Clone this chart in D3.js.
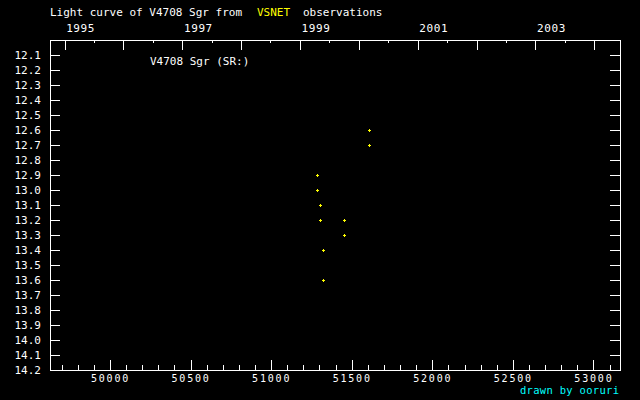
<!DOCTYPE html>
<html><head><meta charset="utf-8">
<script src="https://cdn.jsdelivr.net/npm/d3@7"></script>
<style>
html,body{margin:0;padding:0;background:#000;}
svg{display:block;}
text{font-family:"DejaVu Sans Mono",monospace;font-size:11px;fill:#fff;}
</style></head>
<body>
<svg id="c" width="640" height="400"></svg>
<script>
// Observations (JD - 2400000, visual magnitude)
const jd  = [51610, 51610, 51287, 51287, 51305, 51305, 51454, 51454, 51324, 51324];
const mag = [12.6, 12.7, 12.9, 13.0, 13.1, 13.2, 13.2, 13.3, 13.4, 13.6];
// Axis ticks
const jdMajor = [50000, 50500, 51000, 51500, 52000, 52500, 53000];
const jdMinor = [49700,49800,49900,50100,50200,50300,50400,50600,50700,50800,50900,
                 51100,51200,51300,51400,51600,51700,51800,51900,52100,52200,52300,52400,
                 52600,52700,52800,52900,53100];
const years = [1995, 1996, 1997, 1998, 1999, 2000, 2001, 2002, 2003, 2004];
const yearLabels = [1995, 1997, 1999, 2001, 2003];
const magTicks = [12.1,12.2,12.3,12.4,12.5,12.6,12.7,12.8,12.9,13.0,13.1,13.2,13.3,13.4,13.5,13.6,13.7,13.8,13.9,14.0,14.1,14.2];

const L = 50, R = 620, T = 40, B = 370;
const svg = d3.select("#c");
svg.append("rect").attr("width",640).attr("height",400).attr("fill","#000");

const x = d3.scaleLinear().domain([49627.6, 53165]).range([L, R]);
const y = d3.scaleLinear().domain([12.0, 14.2]).range([T, B]);

// calendar year -> JD-2400000
const yearJD = (yr, m) => Date.UTC(yr, m, 1) / 86400000 + 40587 + 0.5;
const yearTickJD = years.map(v => yearJD(v, 0));
const halfTickJD = years.map(v => yearJD(v, 6)).filter(v => x(v) < R);

function styleAxis(g){
  g.select(".domain").remove();
  g.selectAll("line").attr("stroke","#fff").attr("stroke-width",1).attr("shape-rendering","crispEdges");
  g.selectAll("text").attr("fill","#fff").style("font-family","'DejaVu Sans Mono',monospace").style("font-size","11px");
}

// bottom axis
svg.append("g").attr("transform",`translate(0,${B})`)
  .call(d3.axisBottom(x).tickValues(jdMinor).tickSizeInner(-5).tickSizeOuter(0).tickFormat(""))
  .call(styleAxis);
svg.append("g").attr("transform",`translate(0,${B})`)
  .call(d3.axisBottom(x).tickValues(jdMajor).tickSizeInner(-10).tickSizeOuter(0).tickPadding(5).tickFormat(d3.format("d")))
  .call(styleAxis)
  .call(g => g.selectAll("text").attr("y",11.5).attr("dy",null).style("font-size","10px").style("letter-spacing","1.8px"));

// top axis (years)
svg.append("g").attr("transform",`translate(0,${T})`)
  .call(d3.axisTop(x).tickValues(halfTickJD).tickSizeInner(-3).tickSizeOuter(0).tickFormat(""))
  .call(styleAxis);
svg.append("g").attr("transform",`translate(0,${T})`)
  .call(d3.axisTop(x).tickValues(yearTickJD).tickSizeInner(-10).tickSizeOuter(0).tickPadding(8)
        .tickFormat((d,i) => yearLabels.includes(years[i]) ? String(years[i]) : ""))
  .call(styleAxis)
  .call(g => g.selectAll("text").attr("text-anchor","start").attr("dx",1).style("letter-spacing","0.6px"));

// left axis
svg.append("g").attr("transform",`translate(${L},0)`)
  .call(d3.axisLeft(y).tickValues(magTicks).tickSizeInner(-10).tickSizeOuter(0).tickPadding(9).tickFormat(d3.format(".1f")))
  .call(styleAxis);
// right axis
svg.append("g").attr("transform",`translate(${R},0)`)
  .call(d3.axisRight(y).tickValues(magTicks).tickSizeInner(-10).tickSizeOuter(0).tickFormat(""))
  .call(styleAxis);

// frame
svg.append("rect").attr("x",L).attr("y",T).attr("width",R-L).attr("height",B-T)
  .attr("fill","none").attr("stroke","#fff").attr("stroke-width",1).attr("shape-rendering","crispEdges");

// points
const pts = svg.append("g");
jd.forEach((d,i) => {
  const cx = Math.round(x(d)), cy = Math.round(y(mag[i]));
  pts.append("path").attr("d",`M${cx-1},${cy+0.5}h3M${cx+0.5},${cy-1}v3`)
    .attr("stroke","#ffff00").attr("stroke-width",1).attr("fill","none")
    .attr("shape-rendering","crispEdges");
});

// texts
svg.append("text").attr("x",50).attr("y",16).text("Light curve of V4708 Sgr from");
svg.append("text").attr("x",257).attr("y",16).style("fill","#ffff00").text("VSNET");
svg.append("text").attr("x",303).attr("y",16).text("observations");
svg.append("text").attr("x",150).attr("y",65).text("V4708 Sgr (SR:)");
svg.append("text").attr("x",520).attr("y",394).style("fill","#00ffff").style("font-size","10.5px").style("letter-spacing","0.3px").text("drawn by ooruri");
</script>
</body></html>
